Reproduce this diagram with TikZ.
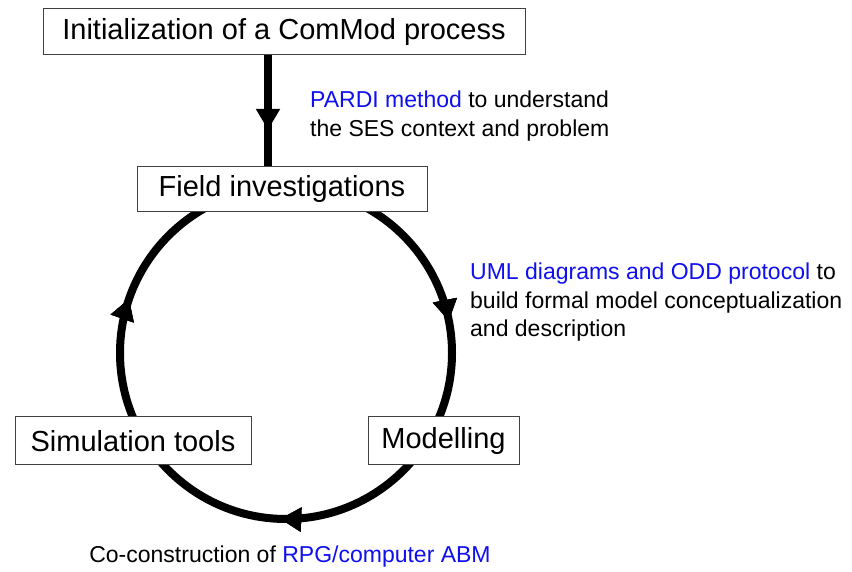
\documentclass[tikz,border=0pt]{standalone}
\usepackage{fontspec}
\setmainfont{Liberation Sans}
\usetikzlibrary{arrows.meta,decorations.markings}
\definecolor{linkblue}{RGB}{15,15,240}
\begin{document}
\begin{tikzpicture}[x=1pt,y=1pt,
  box/.style={draw=black!75, line width=1pt, fill=white, inner sep=0pt, minimum height=46pt, font=\fontsize{29}{34}\selectfont},
  note/.style={font=\fontsize{23}{28.5}\selectfont, align=left, inner sep=0pt},
  flow/.style={line width=8pt},
  tipmark/.style={postaction={decorate}, decoration={markings,
     mark=at position #1 with {\arrow{Triangle[length=21pt,width=23pt]}}}}]
\useasboundingbox (0,0) rectangle (852,572);
\fill[white] (0,0) rectangle (852,572);
% cycle
\coordinate (c) at (286,219);
\draw[flow, tipmark=0.2556, tipmark=0.553, tipmark=0.969] ([xshift=166pt]c) arc[start angle=360, end angle=0, radius=166pt];
% boxes
\node[box, minimum width=482pt] (init) at (284,540) {Initialization of a ComMod process};
\node[box, minimum width=290pt, minimum height=45pt] (field) at (282,382.5) {Field investigations};
\node[box, minimum width=236pt, minimum height=48pt] (sim) at (133,131) {Simulation tools};
\node[box, minimum width=151pt, minimum height=48pt] (model) at (443.5,131) {Modelling};
% vertical arrow
\draw[flow, tipmark=0.67] ([xshift=-16pt]init.south) -- ([xshift=-16pt]init.south |- field.north);
% notes
\node[note, anchor=north west] (pardi) at (310,481) {\textcolor{linkblue}{PARDI method} to understand\\the SES context and problem};
\node[note, anchor=north west] (uml) at (470,309) {\textcolor{linkblue}{UML diagrams and ODD protocol} to\\build formal model conceptualization\\and description};
\node[note, anchor=north] (coc) at (290,26) {Co-construction of \textcolor{linkblue}{RPG/computer ABM}};
\end{tikzpicture}
\end{document}
